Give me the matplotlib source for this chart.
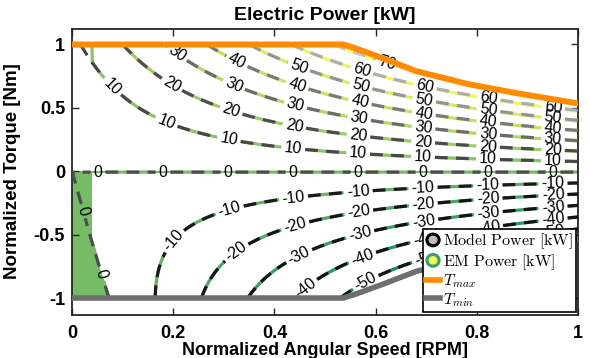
import numpy as np
import matplotlib
matplotlib.use("Agg")
import matplotlib.pyplot as plt
from matplotlib.colors import Normalize
from matplotlib.lines import Line2D
from matplotlib.patches import Ellipse
from matplotlib.legend_handler import HandlerPatch

plt.rcParams['font.family'] = ['Liberation Sans', 'DejaVu Sans']
plt.rcParams['mathtext.fontset'] = 'cm'
plt.rcParams['axes.unicode_minus'] = False

# ---------------- data ----------------
# torque envelope
speed_env = [0.0, 0.536, 0.56, 0.615, 0.68, 0.78, 0.88, 1.0]
torque_max = [1.0, 1.0, 0.97, 0.89, 0.79, 0.69, 0.615, 0.535]
torque_min = [-1.0, -1.0, -0.97, -0.89, -0.79, -0.69, -0.615, -0.535]

# electric power map coefficients [kW], estimated from contour spacing
k_mech = 118.0      # torque * speed
k_copper = 8.0      # torque^2
k_tw = 4.5          # torque^2 * speed
k_t3w = -3.3        # torque^3 * speed
k_w = 0.8           # speed (no-load loss)
k_em_extra = 2.0    # EM map: extra at high speed, motoring
w_em_min = 0.04     # EM map has zero power below this speed

levels = [-60, -50, -40, -30, -20, -10, 0, 10, 20, 30, 40, 50, 60, 70]
model_gray = [0.08, 0.08, 0.08, 0.08, 0.08, 0.1, 0.3, 0.28, 0.3, 0.42, 0.48, 0.58, 0.68, 0.76]

x_ticks = [0, 0.2, 0.4, 0.6, 0.8, 1]
x_tick_labels = ['0', '0.2', '0.4', '0.6', '0.8', '1']
y_ticks = [-1, -0.5, 0, 0.5, 1]
y_tick_labels = ['-1', '-0.5', '0', '0.5', '1']

title = 'Electric Power [kW]'
xlabel = 'Normalized Angular Speed [RPM]'
ylabel = 'Normalized Torque [Nm]'
legend_labels = [r'$\mathrm{Model\ Power\ [kW]}$', r'$\mathrm{EM\ Power\ [kW]}$',
                 r'$T_{max}$', r'$T_{min}$']

# ---------------- figure ----------------
fig = plt.figure(figsize=(5.9, 3.58), dpi=100)
ax = fig.add_axes([72 / 590, 1 - 314.5 / 358, 506 / 590, 286 / 358])
ax.set_xlim(0, 1)
ax.set_ylim(-1.13, 1.126)

w = np.linspace(0, 1, 501)
t = np.linspace(-1, 1, 500)
W, T = np.meshgrid(w, t)
p_model = (k_mech * T * W + k_copper * T ** 2 + k_tw * T ** 2 * W
           + k_t3w * T ** 3 * W + k_w * W)
p_em = p_model + k_em_extra * np.clip(T, 0, None) * W ** 4
tmax_g = np.interp(w, speed_env, torque_max)
tmin_g = np.interp(w, speed_env, torque_min)
outside = (T > tmax_g + 1e-6) | (T < tmin_g - 1e-6)

pm = np.ma.masked_where(outside, p_model)
pe = np.ma.masked_where(outside, np.where(W < w_em_min, 0.0, p_em))
pe0 = np.ma.masked_where(outside | (W < w_em_min), p_em)

norm = Normalize(-60, 70)
cmap = plt.get_cmap('summer')
em_levels = [l for l in levels if l != 0]
em_colors = [cmap(norm(l)) for l in em_levels]
zero_color = cmap(norm(0))

fill = ((T < 0) & ((W < w_em_min) | (p_em > 0))).astype(float)
fill = np.ma.masked_where(outside, fill)
ax.contourf(W, T, fill, levels=[0.5, 1.5], colors=[zero_color], zorder=1)

lw = 2.3
cs_em = ax.contour(W, T, pe, levels=em_levels, colors=em_colors, linewidths=lw, zorder=2)
cs_em0 = ax.contour(W, T, pe0, levels=[0], colors=[zero_color], linewidths=lw, zorder=2)
cs_model = ax.contour(W, T, pm, levels=levels, colors=[str(g) for g in model_gray],
                      linewidths=lw, zorder=3)
cs_model.set_linestyle((0, (4, 2.6)))

# label positions every ~65 px along each model line, starting from the right end
spacing, offset = 65.0, 25.0
pts = {}
for lev, segs in zip(cs_model.levels, cs_model.allsegs):
    for seg in segs:
        if len(seg) < 3:
            continue
        if seg[0, 0] < seg[-1, 0]:
            seg = seg[::-1]
        disp = ax.transData.transform(seg)
        s = np.concatenate([[0], np.cumsum(np.hypot(*np.diff(disp, axis=0).T))])
        pos = offset
        while pos < s[-1] - 12:
            pts.setdefault(lev, []).append((np.interp(pos, s, seg[:, 0]),
                                            np.interp(pos, s, seg[:, 1])))
            pos += spacing


def near_points(cs, lev_list):
    out = []
    for lev, segs in zip(cs.levels, cs.allsegs):
        if lev not in lev_list:
            continue
        dsegs = [ax.transData.transform(sg) for sg in segs if len(sg) > 1]
        for p in pts.get(lev, []):
            dp = ax.transData.transform([p])[0]
            dmin = min([np.min(np.hypot(*(d - dp).T)) for d in dsegs] + [1e9])
            if dmin < 6:
                out.append(p)
    return out


lab_fs = 11.5
all_pts = [p for lev in levels for p in pts.get(lev, [])]
cs_model.clabel(manual=all_pts, inline=True, inline_spacing=3, fmt='%d',
                fontsize=lab_fs, colors='k')
for tx in cs_em.clabel(manual=near_points(cs_em, em_levels), inline=True,
                       inline_spacing=3, fmt='%d', fontsize=lab_fs):
    tx.set_visible(False)
for tx in cs_em0.clabel(manual=near_points(cs_em0, [0]), inline=True,
                        inline_spacing=3, fmt='%d', fontsize=lab_fs):
    tx.set_visible(False)

ax.plot(speed_env, torque_max, color='#ff8c00', lw=4.3, zorder=6)
ax.plot(speed_env, torque_min, color='#6e6e6e', lw=4.0, zorder=6)

# axes styling
ax.set_xticks(x_ticks, x_tick_labels, fontweight='bold')
ax.set_yticks(y_ticks, y_tick_labels, fontweight='bold')
ax.tick_params(direction='in', top=True, right=True, length=5, width=1,
               labelsize=13, colors='#262626', labelcolor='k')
ax.tick_params(axis='x', pad=7.5)
ax.tick_params(axis='y', pad=5)
for sp in ax.spines.values():
    sp.set_linewidth(1.3)
    sp.set_color('#262626')
ax.set_title(title, fontsize=14, fontweight='bold', pad=6)
ax.set_xlabel(xlabel, fontsize=13, fontweight='bold')
ax.set_ylabel(ylabel, fontsize=13.5, fontweight='bold')
ax.xaxis.set_label_coords(0.5, -0.097)
ax.yaxis.set_label_coords(-0.1, 0.5)


class HandlerEllipse(HandlerPatch):
    def create_artists(self, legend, orig_handle, xdescent, ydescent, width,
                       height, fontsize, trans):
        center = (0.5 * width - 0.5 * xdescent, 0.5 * height - 0.5 * ydescent)
        p = Ellipse(xy=center, width=width * 0.85, height=height * 1.0)
        self.update_prop(p, orig_handle, legend)
        p.set_transform(trans)
        return [p]


h_model = Ellipse((0, 0), 1, 1, facecolor='#bdbdbd', edgecolor='black', lw=2.2)
h_em = Ellipse((0, 0), 1, 1, facecolor='#f2f25a', edgecolor=cmap(norm(-30)), lw=2.2)
h_tmax = Line2D([], [], color='#ff8c00', lw=4)
h_tmin = Line2D([], [], color='#6e6e6e', lw=4)
leg = ax.legend([h_model, h_em, h_tmax, h_tmin], legend_labels, loc='lower right',
                handler_map={Ellipse: HandlerEllipse()}, fontsize=11.5, frameon=True,
                fancybox=False, edgecolor='k', framealpha=1, borderaxespad=0.15,
                handlelength=0.9, handleheight=0.75, handletextpad=0.15,
                labelspacing=0.05, borderpad=0.2)
leg.get_frame().set_linewidth(1.2)
leg.set_zorder(10)

fig.savefig('out.png', dpi=100)
